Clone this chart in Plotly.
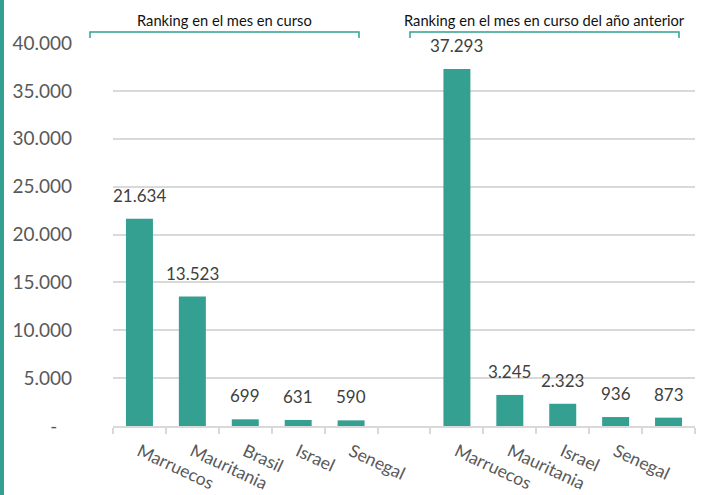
import plotly.graph_objects as go

# ---- data ----
categories_current = ["Marruecos", "Mauritania", "Brasil", "Israel", "Senegal"]
values_current = [21634, 13523, 699, 631, 590]
categories_previous = ["Marruecos", "Mauritania", "Israel", "Senegal", "Libia"]
values_previous = [37293, 3245, 2323, 936, 873]
group_titles = ["Ranking en el mes en curso", "Ranking en el mes en curso del año anterior"]
y_tickvals = [0, 5000, 10000, 15000, 20000, 25000, 30000, 35000, 40000]
y_ticktext = ["-\u00a0\u00a0\u00a0", "5.000", "10.000", "15.000", "20.000", "25.000",
              "30.000", "35.000", "40.000"]

TEAL = "#33a091"
GRID = "#d9d9d9"
FONT = "Lato"

x_cur = list(range(len(categories_current)))
x_prev = [len(categories_current) + 1 + i for i in range(len(categories_previous))]
x_all = x_cur + x_prev
labels_all = categories_current + categories_previous
values_all = values_current + values_previous
n_slots = len(x_all) + 1

W, H = 702, 495
ML, MR, MT, MB = 113, 7, 43, 69
PW, PH = W - ML - MR, H - MT - MB


def px_x(p):
    return (p - ML) / PW


def px_y(p):
    return (H - MB - p) / PH


fig = go.Figure()
fig.add_trace(go.Bar(
    x=x_all, y=values_all, marker=dict(color=TEAL, line=dict(width=0)),
    hoverinfo="skip",
))


def fmt(v):
    return f"{v:,}".replace(",", ".")


annotations = []
for x, v in zip(x_all, values_all):
    annotations.append(dict(
        x=x, y=v, xref="x", yref="y", text=fmt(v), showarrow=False,
        yanchor="bottom", yshift=11, font=dict(family=FONT, size=17, color="#404040"),
    ))

# group headers + brackets
brackets = [(90, 359), (410, 679)]
shapes = []
for title, (a, b) in zip(group_titles, brackets):
    annotations.append(dict(
        x=px_x((a + b) / 2), y=px_y(20), xref="paper", yref="paper", text=title,
        showarrow=False, xanchor="center", yanchor="middle",
        font=dict(family=FONT, size=14.7, color="#111111"),
    ))
    shapes.append(dict(
        type="path", xref="paper", yref="paper",
        path=f"M {px_x(a)} {px_y(38)} L {px_x(a)} {px_y(32)} L {px_x(b)} {px_y(32)} L {px_x(b)} {px_y(38)}",
        line=dict(color=TEAL, width=1.5),
    ))

# left accent bar
shapes.append(dict(
    type="rect", xref="paper", yref="paper", x0=px_x(0), x1=px_x(4), y0=px_y(H), y1=px_y(0),
    fillcolor=TEAL, line=dict(width=0), layer="above",
))

fig.update_layout(
    width=W, height=H,
    margin=dict(l=ML, r=MR, t=MT, b=MB, pad=0, autoexpand=False),
    paper_bgcolor="white", plot_bgcolor="white",
    bargap=0.49, showlegend=False,
    annotations=annotations, shapes=shapes,
    font=dict(family=FONT, color="#595959"),
)
fig.update_xaxes(
    range=[-0.5, n_slots - 0.5], automargin=False,
    tickmode="array", tickvals=x_all, ticktext=labels_all, tickangle=25,
    ticks="", showgrid=False, zeroline=False, ticklabelstandoff=7,
    showline=True, linecolor=GRID, linewidth=1.5,
    tickfont=dict(family=FONT, size=17.5, color="#595959"),
    minor=dict(tickmode="array", tickvals=[i - 0.5 for i in range(n_slots + 1)],
               ticks="outside", ticklen=6, tickcolor=GRID, tickwidth=1.5, showgrid=False),
)
fig.update_yaxes(
    range=[0, 40000], automargin=False, tickmode="array", tickvals=y_tickvals, ticktext=y_ticktext,
    showgrid=True, gridcolor=GRID, gridwidth=1.5, zeroline=False, showline=False,
    ticks="", ticklabelstandoff=40,
    tickfont=dict(family=FONT, size=19, color="#595959"),
)

fig.write_html(
    "out.html",
    config={"displayModeBar": False},
    post_script="document.body.style.margin='0';document.body.style.overflow='hidden';",
)
